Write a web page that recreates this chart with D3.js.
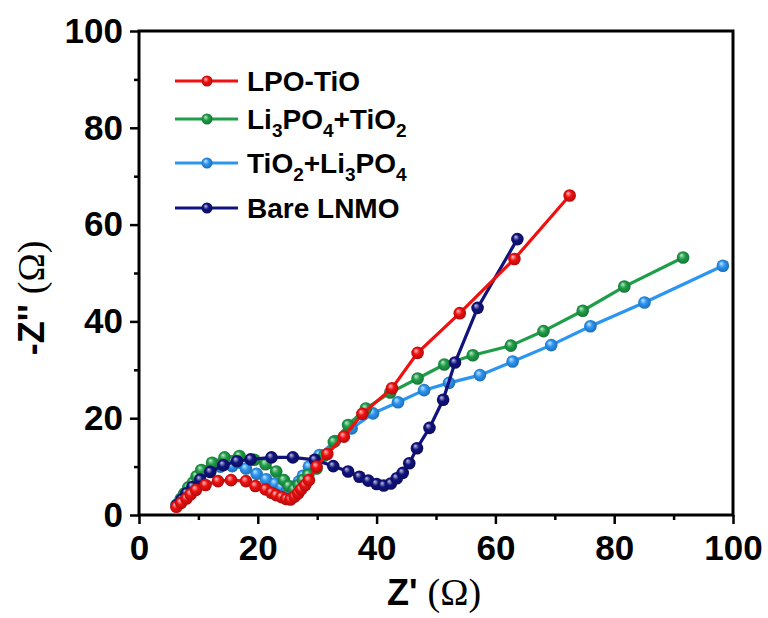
<!DOCTYPE html>
<html>
<head>
<meta charset="utf-8">
<script src="https://cdn.jsdelivr.net/npm/d3@7"></script>
<style>
  body { margin: 0; background: #fff; }
  svg { display: block; }
  .tick text { font-family: "Liberation Sans", Arial, sans-serif; font-weight: bold; font-size: 35px; fill: #000; }
</style>
</head>
<body>
<div id="chart"></div>
<script>
// Nyquist data: Z' and -Z'' in ohm
var lpoX = [6.3, 7.1, 8.0, 8.7, 9.6, 11.2, 13.3, 15.5, 18.0, 19.6, 21.3, 22.3, 23.1, 24.0, 24.8, 25.5, 26.2, 26.8, 27.3, 28.0, 28.6, 29.9, 31.7, 34.5, 37.6, 42.6, 46.9, 54.0, 63.2, 72.5];
var lpoY = [1.7, 2.5, 3.4, 4.3, 5.2, 6.2, 7.0, 7.2, 7.0, 6.0, 5.3, 4.6, 4.1, 3.7, 3.3, 3.2, 3.8, 4.5, 5.3, 6.2, 7.2, 10.0, 12.6, 16.2, 20.9, 26.2, 33.5, 41.7, 52.9, 66.0];

var liTiX = [6.5, 7.1, 7.7, 8.3, 9.1, 9.7, 10.5, 12.3, 14.4, 16.9, 19.4, 21.3, 23.1, 24.4, 25.2, 26.1, 26.9, 27.6, 28.5, 29.9, 31.2, 32.8, 35.2, 38.2, 42.3, 46.9, 51.4, 56.2, 62.6, 68.1, 74.7, 81.7, 91.6];
var liTiY = [2.2, 3.4, 4.5, 5.7, 6.7, 8.0, 9.3, 10.8, 11.9, 12.2, 11.4, 10.5, 9.0, 7.2, 6.0, 5.3, 6.2, 7.2, 8.3, 9.6, 12.3, 15.1, 18.6, 22.0, 25.3, 28.2, 31.1, 33.0, 35.0, 38.0, 42.2, 47.2, 53.2];

var tiLiX = [6.3, 7.0, 7.6, 8.3, 9.1, 10.3, 11.9, 13.7, 15.7, 18.0, 19.8, 21.4, 22.9, 24.0, 25.0, 26.1, 26.9, 27.6, 28.6, 30.4, 33.0, 35.8, 39.4, 43.6, 48.0, 52.2, 57.4, 62.9, 69.4, 76.0, 85.1, 98.3];
var tiLiY = [2.1, 3.2, 4.3, 5.4, 6.5, 8.0, 9.3, 10.0, 10.1, 9.6, 8.5, 7.4, 6.5, 5.7, 5.2, 5.9, 6.9, 8.1, 10.0, 12.4, 15.3, 17.9, 21.0, 23.3, 25.8, 27.3, 28.9, 31.7, 35.1, 39.0, 43.9, 51.5];

var bareX = [6.4, 7.2, 8.0, 9.0, 10.3, 12.0, 14.2, 16.5, 18.8, 22.3, 25.9, 29.6, 32.7, 35.2, 37.1, 38.6, 40.0, 41.2, 42.4, 43.4, 44.4, 45.5, 46.8, 48.9, 51.2, 53.2, 57.0, 63.7];
var bareY = [2.0, 3.2, 4.5, 5.8, 7.3, 8.9, 10.3, 11.1, 11.5, 11.9, 11.9, 11.4, 10.1, 9.0, 7.9, 7.1, 6.4, 6.1, 6.5, 7.6, 8.7, 10.7, 13.8, 18.0, 23.8, 31.5, 42.8, 57.0];

var xTicks = [0, 20, 40, 60, 80, 100];
var yTicks = [0, 20, 40, 60, 80, 100];
var minorTicks = [10, 30, 50, 70, 90];

// series: legend label parts [text, isSubscript]
var series = [
  { id: "tili", color: "#2b95f2", x: tiLiX, y: tiLiY,
    label: [["TiO", 0], ["2", 1], ["+Li", 0], ["3", 1], ["PO", 0], ["4", 1]] },
  { id: "liti", color: "#1e9e48", x: liTiX, y: liTiY,
    label: [["Li", 0], ["3", 1], ["PO", 0], ["4", 1], ["+TiO", 0], ["2", 1]] },
  { id: "bare", color: "#10127e", x: bareX, y: bareY,
    label: [["Bare LNMO", 0]] },
  { id: "lpo", color: "#f01010", x: lpoX, y: lpoY,
    label: [["LPO-TiO", 0]] }
];
var legendOrder = ["lpo", "liti", "tili", "bare"];
var legendY = [81, 119, 163, 208];

var svgWidth = 768;
var svgHeight = 618;
var margin = { top: 31, right: 35, bottom: 103, left: 139 };
var width = svgWidth - margin.left - margin.right;
var height = svgHeight - margin.top - margin.bottom;

var svg = d3.select("#chart")
  .append("svg")
  .attr("width", svgWidth)
  .attr("height", svgHeight);

// sphere look for the markers
var defs = svg.append("defs");
series.forEach(function(s) {
  var g = defs.append("radialGradient")
    .attr("id", "ball-" + s.id)
    .attr("cx", "50%").attr("cy", "50%").attr("r", "55%")
    .attr("fx", "35%").attr("fy", "30%");
  g.append("stop").attr("offset", "0%").attr("stop-color", d3.interpolateRgb(s.color, "#fff")(0.75));
  g.append("stop").attr("offset", "45%").attr("stop-color", s.color);
  g.append("stop").attr("offset", "100%").attr("stop-color", d3.interpolateRgb(s.color, "#000")(0.3));
});

var chartGroup = svg.append("g")
  .attr("transform", `translate(${margin.left}, ${margin.top})`);

var xScale = d3.scaleLinear().domain([0, 100]).range([0, width]);
var yScale = d3.scaleLinear().domain([0, 100]).range([height, 0]);

// minor ticks first, then major axes
chartGroup.append("g")
  .attr("transform", `translate(0, ${height})`)
  .call(d3.axisBottom(xScale).tickValues(minorTicks).tickSize(5).tickFormat(""))
  .call(g => g.select(".domain").remove())
  .selectAll("line").attr("stroke-width", 2.5);

chartGroup.append("g")
  .call(d3.axisLeft(yScale).tickValues(minorTicks).tickSize(5).tickFormat(""))
  .call(g => g.select(".domain").remove())
  .selectAll("line").attr("stroke-width", 2.5);

var xAxis = chartGroup.append("g")
  .attr("transform", `translate(0, ${height})`)
  .call(d3.axisBottom(xScale).tickValues(xTicks).tickSize(9).tickPadding(11).tickSizeOuter(0));
xAxis.select(".domain").remove();
xAxis.selectAll("line").attr("stroke-width", 2.5);

var yAxis = chartGroup.append("g")
  .call(d3.axisLeft(yScale).tickValues(yTicks).tickSize(9).tickPadding(7).tickSizeOuter(0));
yAxis.select(".domain").remove();
yAxis.selectAll("line").attr("stroke-width", 2.5);

// frame
chartGroup.append("rect")
  .attr("width", width)
  .attr("height", height)
  .attr("fill", "none")
  .attr("stroke", "#000")
  .attr("stroke-width", 3);

// curves
var line = d3.line()
  .x(d => xScale(d[0]))
  .y(d => yScale(d[1]));

series.forEach(function(s) {
  var pts = s.x.map((v, i) => [v, s.y[i]]);
  var g = chartGroup.append("g");
  g.append("path")
    .datum(pts)
    .attr("d", line)
    .attr("fill", "none")
    .attr("stroke", s.color)
    .attr("stroke-width", 3.2);
  g.selectAll("circle")
    .data(pts)
    .enter()
    .append("circle")
    .attr("cx", d => xScale(d[0]))
    .attr("cy", d => yScale(d[1]))
    .attr("r", 6.3)
    .attr("fill", "url(#ball-" + s.id + ")");
});

// legend
var legend = svg.append("g");
legendOrder.forEach(function(id, i) {
  var s = series.find(d => d.id === id);
  var row = legend.append("g").attr("transform", `translate(0, ${legendY[i]})`);
  row.append("line")
    .attr("x1", 175).attr("x2", 238)
    .attr("stroke", s.color)
    .attr("stroke-width", 3);
  row.append("circle")
    .attr("cx", 207).attr("r", 5.5)
    .attr("fill", "url(#ball-" + s.id + ")");
  var t = row.append("text")
    .attr("x", 247)
    .attr("y", 10)
    .style("font-family", "'Liberation Sans', Arial, sans-serif")
    .style("font-weight", "bold")
    .style("font-size", "28px");
  var low = false;
  s.label.forEach(function(p) {
    var ts = t.append("tspan").text(p[0]);
    if (p[1]) {
      ts.attr("dy", low ? 0 : 8).style("font-size", "19px");
      low = true;
    } else {
      if (low) ts.attr("dy", -8);
      low = false;
    }
  });
});

// axis titles
var xTitle = svg.append("text")
  .attr("x", 434)
  .attr("y", 605)
  .attr("text-anchor", "middle")
  .style("font-size", "36px");
xTitle.append("tspan")
  .style("font-family", "'Liberation Sans', Arial, sans-serif")
  .style("font-weight", "bold")
  .text("Z' ");
xTitle.append("tspan")
  .style("font-family", "'Liberation Serif', 'Times New Roman', serif")
  .style("font-size", "38px")
  .text("(Ω)");

var yTitle = svg.append("text")
  .attr("transform", "translate(44, 298) rotate(-90)")
  .attr("text-anchor", "middle")
  .style("font-size", "36px");
yTitle.append("tspan")
  .style("font-family", "'Liberation Sans', Arial, sans-serif")
  .style("font-weight", "bold")
  .text("-Z'' ");
yTitle.append("tspan")
  .style("font-family", "'Liberation Serif', 'Times New Roman', serif")
  .style("font-size", "38px")
  .text("(Ω)");
</script>
</body>
</html>
